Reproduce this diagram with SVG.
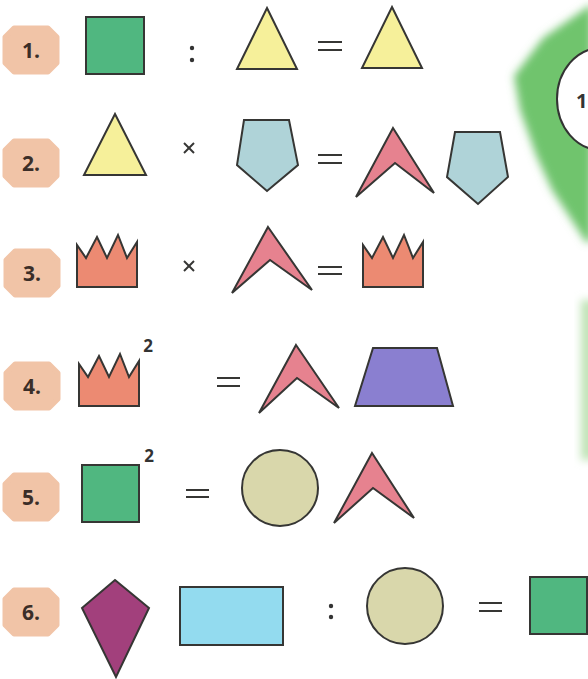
<svg xmlns="http://www.w3.org/2000/svg" width="588" height="679" viewBox="0 0 588 679">
<style>
.s{stroke:#363634;stroke-width:2;stroke-linejoin:miter}
.sq{fill:#50b780}
.yl{fill:#f6f09a}
.pn{fill:#afd3d8}
.ch{fill:#e6828f}
.cr{fill:#ec8a72}
.ci{fill:#d9d7ab}
.op{stroke:#363634;stroke-width:2;fill:none}
.bt{font-family:"Open Sans","DejaVu Sans",sans-serif;font-weight:bold;font-size:21px;fill:#3b2e28;text-anchor:middle}
.sup{font-family:"Open Sans","DejaVu Sans",sans-serif;font-weight:bold;font-size:17px;fill:#333;text-anchor:middle}
.dot{fill:#333}
</style>
<defs>
<polygon id="badge" points="-17,-22 17,-22 26,-13 26,13 17,22 -17,22 -26,13 -26,-13" fill="#f1c4a7" stroke="#f1c4a7" stroke-width="5" stroke-linejoin="round"/>
<path id="crown" d="M0,52 L0,10 L9,23 L20,2 L30,23 L41,0 L50,23 L60,7 L60,52 Z"/>
<filter id="blur" x="-50%" y="-50%" width="200%" height="200%"><feGaussianBlur stdDeviation="4"/></filter>
</defs>
<rect width="588" height="679" fill="#ffffff"/>
<g id="background">
<polygon points="592,4 543,38 514,76 520,110 536,155 552,190 586,242 592,242" fill="#6fc46d" filter="url(#blur)"/>
<rect x="581" y="300" width="14" height="160" fill="#bfe3b6" filter="url(#blur)"/>
<ellipse cx="601" cy="99" rx="44" ry="51" fill="#ffffff" stroke="#333" stroke-width="2"/>
<text x="576" y="108" font-family="Open Sans, DejaVu Sans, sans-serif" font-weight="bold" font-size="20" fill="#333">1</text>
</g>
<g id="row1">
<g id="badge1"><use href="#badge" x="31" y="50"/><text class="bt" x="31" y="58">1.</text></g>
<rect id="r1-square" class="s sq" x="86" y="17" width="58" height="57"/>
<g id="r1-colon"><circle class="dot" cx="192" cy="48" r="2.2"/><circle class="dot" cx="192" cy="60" r="2.2"/></g>
<polygon id="r1-tri1" class="s yl" points="267,8 297,69 237,69"/>
<g id="r1-eq"><line class="op" x1="318" y1="42" x2="342" y2="42"/><line class="op" x1="318" y1="50" x2="342" y2="50"/></g>
<polygon id="r1-tri2" class="s yl" points="392,7 422,68 362,68"/>
</g>
<g id="row2">
<g id="badge2"><use href="#badge" x="31" y="163"/><text class="bt" x="31" y="171">2.</text></g>
<polygon id="r2-tri" class="s yl" points="115,114 146,175 84,175"/>
<g id="r2-times"><line class="op" x1="184" y1="143" x2="194" y2="153" stroke-width="1.6"/><line class="op" x1="194" y1="143" x2="184" y2="153" stroke-width="1.6"/></g>
<polygon id="r2-pent1" class="s pn" points="244,120 289,120 298,165 267,191 237,165"/>
<g id="r2-eq"><line class="op" x1="318" y1="155" x2="342" y2="155"/><line class="op" x1="318" y1="163" x2="342" y2="163"/></g>
<polygon id="r2-chev" class="s ch" points="393,128 434,193 395,163 356,197"/>
<polygon id="r2-pent2" class="s pn" points="455,132 500,132 508,177 478,204 447,177"/>
</g>
<g id="row3">
<g id="badge3"><use href="#badge" x="32" y="273"/><text class="bt" x="32" y="281">3.</text></g>
<use id="r3-crown1" href="#crown" class="s cr" x="77" y="235"/>
<g id="r3-times"><line class="op" x1="184" y1="261" x2="194" y2="271" stroke-width="1.6"/><line class="op" x1="194" y1="261" x2="184" y2="271" stroke-width="1.6"/></g>
<polygon id="r3-chev" class="s ch" points="268,227 312,290 270,260 232,293"/>
<g id="r3-eq"><line class="op" x1="318" y1="267" x2="342" y2="267"/><line class="op" x1="318" y1="274" x2="342" y2="274"/></g>
<use id="r3-crown2" href="#crown" class="s cr" x="363" y="235"/>
</g>
<g id="row4">
<g id="badge4"><use href="#badge" x="32" y="386"/><text class="bt" x="32" y="394">4.</text></g>
<use id="r4-crown" href="#crown" class="s cr" x="79" y="354"/>
<text id="r4-sup" class="sup" x="148" y="352">2</text>
<g id="r4-eq"><line class="op" x1="217" y1="378" x2="240" y2="378"/><line class="op" x1="217" y1="386" x2="240" y2="386"/></g>
<polygon id="r4-chev" class="s ch" points="296,345 339,408 297,378 259,413"/>
<polygon id="r4-trap" class="s" fill="#8a7fd0" points="373,348 437,348 453,406 355,406"/>
</g>
<g id="row5">
<g id="badge5"><use href="#badge" x="31" y="497"/><text class="bt" x="31" y="505">5.</text></g>
<rect id="r5-square" class="s sq" x="82" y="465" width="57" height="57"/>
<text id="r5-sup" class="sup" x="149" y="462">2</text>
<g id="r5-eq"><line class="op" x1="186" y1="490" x2="209" y2="490"/><line class="op" x1="186" y1="497" x2="209" y2="497"/></g>
<circle id="r5-circle" class="s ci" cx="280" cy="488" r="38"/>
<polygon id="r5-chev" class="s ch" points="372,453 414,518 373,488 334,523"/>
</g>
<g id="row6">
<g id="badge6"><use href="#badge" x="31" y="612"/><text class="bt" x="31" y="620">6.</text></g>
<polygon id="r6-kite" class="s" fill="#a2407c" points="115,580 149,608 116,677 82,608"/>
<rect id="r6-rect" class="s" fill="#93dbef" x="180" y="587" width="103" height="58"/>
<g id="r6-colon"><circle class="dot" cx="331" cy="606" r="2.2"/><circle class="dot" cx="331" cy="617" r="2.2"/></g>
<circle id="r6-circle" class="s ci" cx="405" cy="606" r="38"/>
<g id="r6-eq"><line class="op" x1="479" y1="603" x2="502" y2="603"/><line class="op" x1="479" y1="611" x2="502" y2="611"/></g>
<rect id="r6-square" class="s sq" x="530" y="577" width="57" height="57"/>
</g>
</svg>
